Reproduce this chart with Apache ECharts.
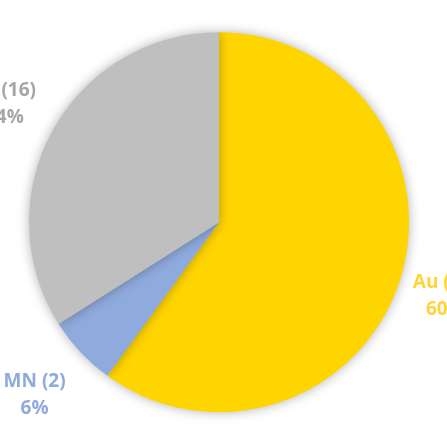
<!DOCTYPE html>
<html><head><meta charset="utf-8">
<style>html,body{margin:0;padding:0;background:#fff}#c{width:447px;height:447px}</style>
<script src="https://cdn.jsdelivr.net/npm/echarts@6/dist/echarts.min.js"></script>
</head><body><div id="c"></div>
<script>
const names = ['Au', 'MN', 'Ag'];
const counts = [28, 2, 16];
const percents = [60, 6, 34];
const colors = ['#FFD500', '#8FAADC', '#BFBFBF'];
const labelColors = ['#FFD43B', '#8FAADC', '#A6A6A6'];
const labelGaps = [48, 63, 55];

const chart = echarts.init(document.getElementById('c'));
chart.setOption({
  animation: false,
  series: [{
    type: 'pie',
    center: ['49%', '49.7%'],
    radius: 190,
    startAngle: 90,
    clockwise: true,
    avoidLabelOverlap: false,
    data: names.map((n, i) => ({
      name: n, value: percents[i],
      itemStyle: { color: colors[i] },
      label: { color: labelColors[i] },
      labelLine: { show: false, length: labelGaps[i], length2: 0 }
    })),
    itemStyle: { shadowBlur: 12, shadowColor: 'rgba(0,0,0,0.3)' },
    label: {
      show: true, position: 'outside',
      formatter: p => names[p.dataIndex] + ' (' + counts[p.dataIndex] + ')\n' + percents[p.dataIndex] + '%',
      fontFamily: 'Open Sans', fontWeight: 'bold', fontSize: 19, lineHeight: 27,
      distanceToLabelLine: 0
    },
    labelLine: { show: false, length: 48, length2: 0 },
    labelLayout: () => ({ align: 'center', verticalAlign: 'middle' })
  }]
});
</script></body></html>
